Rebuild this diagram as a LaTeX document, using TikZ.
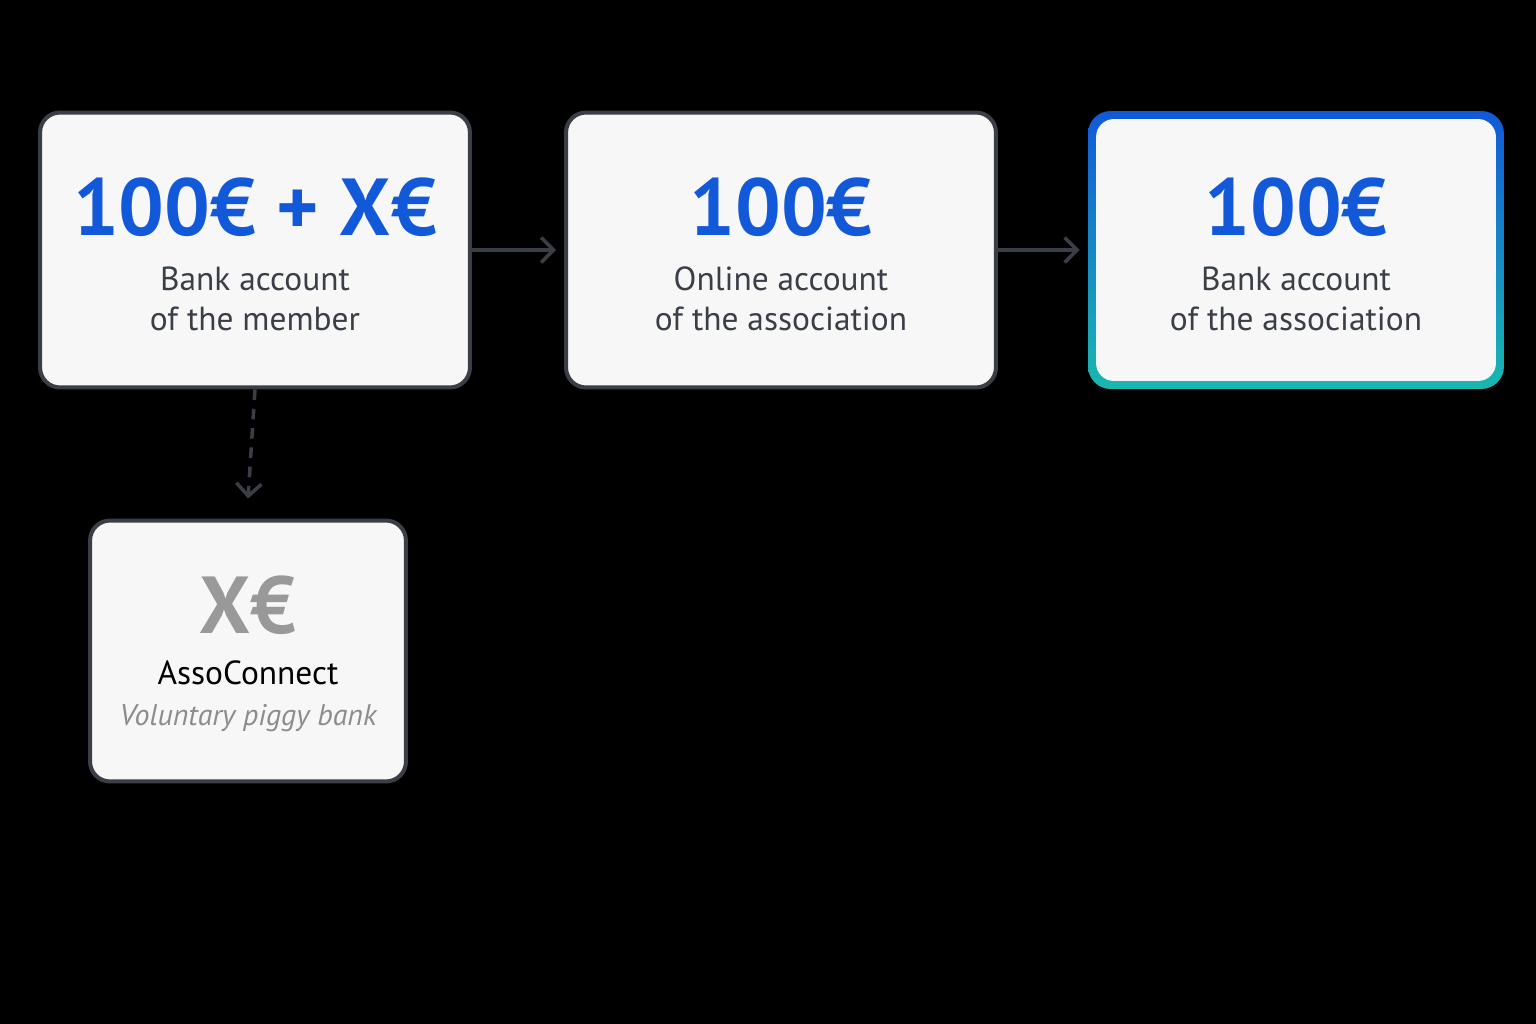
\documentclass[tikz,border=0pt]{standalone}
\usepackage{fontspec}
\setmainfont{PT Sans}
\usetikzlibrary{positioning,calc,arrows.meta}
\definecolor{boxline}{HTML}{3A3F47}
\definecolor{boxfill}{HTML}{F7F7F7}
\definecolor{amount}{HTML}{1259D9}
\definecolor{teal}{HTML}{19B8B0}
\begin{document}
\begin{tikzpicture}[x=0.02cm,y=-0.02cm,
  account/.style={rectangle, rounded corners=0.4cm, draw=boxline, line width=2.3pt, fill=boxfill, minimum width=8.6cm, minimum height=5.5cm},
  big/.style={font=\fontsize{46}{46}\bfseries\selectfont, text=amount},
  caption/.style={font=\fontsize{19}{23}\selectfont, text=boxline, align=center},
  flow/.style={-{Straight Barb[length=2.5mm,width=5mm]}, draw=boxline, line width=2pt}
]
	\fill[black] (0,0) rectangle (1536,1024);

	% top row
	\node (member) [account] at (255,250) {};
	\node (online) [account] at (781,250) {};
	\node[rectangle, rounded corners=0.45cm, minimum width=8.32cm, minimum height=5.56cm, top color=amount, bottom color=teal] (outer) at (1296,250) {};
	\node (assoc) [rectangle, rounded corners=0.36cm, fill=boxfill, minimum width=8.0cm, minimum height=5.24cm] at (1296,250) {};

	\node (memberAmount) [big] at (255,207) {100€ + X€};
	\node (memberText) [caption] at (255,299) {Bank account\\of the member};
	\node (onlineAmount) [big] at (781,207) {100€};
	\node (onlineText) [caption] at (781,299) {Online account\\of the association};
	\node (assocAmount) [big] at (1296,207) {100€};
	\node (assocText) [caption] at (1296,299) {Bank account\\of the association};

	% piggy bank
	\node (piggy) [account, minimum width=6.32cm, minimum height=5.22cm] at (248,651) {};
	\node (piggyAmount) [big, text=black!40] at (248,605) {X€};
	\node (piggyName) [caption, text=black] at (248,673) {AssoConnect};
	\node (piggyText) [caption, text=black!45, font=\fontsize{17}{20}\itshape\selectfont] at (248,718) {Voluntary piggy bank};

	\draw[flow] (member.east) -- ($(online.west)+(-8,0)$);
	\draw[flow] (online.east) -- ($(outer.west)+(-8,0)$);
	\draw[flow, dashed, dash pattern=on 6pt off 5pt] (member.south) -- ($(piggy.north)+(0,-20)$);
\end{tikzpicture}
\end{document}
